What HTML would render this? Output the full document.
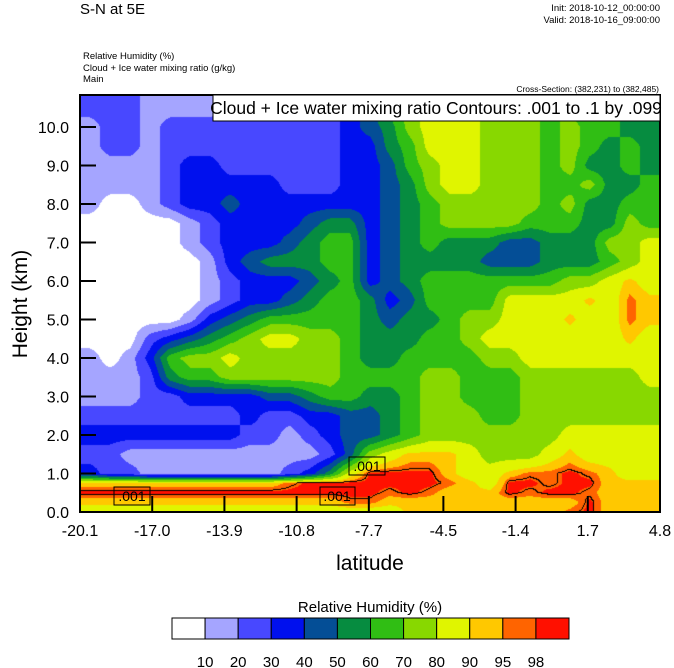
<!DOCTYPE html>
<html><head><meta charset="utf-8">
<style>
html,body{margin:0;padding:0;background:#fff;}
body{width:674px;height:668px;position:relative;overflow:hidden;font-family:"Liberation Sans",sans-serif;}
#field{position:absolute;left:80px;top:95px;}
#overlay{position:absolute;left:0;top:0;}
</style></head>
<body>
<canvas id="field" width="580" height="417"></canvas>
<svg id="overlay" width="674" height="668" xmlns="http://www.w3.org/2000/svg" font-family="Liberation Sans, sans-serif">
<text x="80" y="14" font-size="15">S-N at 5E</text>
<text x="660" y="11" font-size="9.5" text-anchor="end">Init: 2018-10-12_00:00:00</text>
<text x="660" y="23" font-size="9.5" text-anchor="end">Valid: 2018-10-16_09:00:00</text>
<text x="83" y="59" font-size="9.5">Relative Humidity   (%)</text>
<text x="83" y="71" font-size="9.5">Cloud + Ice water mixing ratio   (g/kg)</text>
<text x="83" y="82" font-size="9.5">Main</text>
<text x="659" y="92" font-size="8.5" text-anchor="end">Cross-Section: (382,231) to (382,485)</text>
<g id="axes"></g>
<rect x="213" y="95" width="447" height="26" fill="#fff" stroke="#000" stroke-width="1"/>
<text x="436" y="114" font-size="17.5" text-anchor="middle">Cloud + Ice water mixing ratio Contours: .001 to .1 by .099</text>
<g><rect x="114" y="487" width="36" height="18" fill="none" stroke="#000"/><text x="132" y="501" font-size="14" text-anchor="middle">.001</text></g>
<g><rect x="320" y="487" width="35" height="18" fill="none" stroke="#000"/><text x="337" y="501" font-size="14" text-anchor="middle">.001</text></g>
<g><rect x="349" y="457" width="36" height="18" fill="none" stroke="#000"/><text x="367" y="471" font-size="14" text-anchor="middle">.001</text></g>
<text x="370" y="570" font-size="21" text-anchor="middle">latitude</text>
<text transform="translate(27,304) rotate(-90)" font-size="21" text-anchor="middle">Height (km)</text>
<text x="370" y="612" font-size="15" text-anchor="middle">Relative Humidity  (%)</text>
<g id="colorbar"></g>
</svg>
<script>
// ---- data (rows bottom -> top, one code per latitude column; code = RH class index) ----
const heights = [0,0.25,0.5,0.75,1,1.5,2,2.5,3,3.5,4,4.5,5,5.5,6,6.5,7,7.5,8,8.5,9,9.5,10,10.5,11];
const latitudes = [-19.67,-18.81,-17.95,-17.09,-16.24,-15.38,-14.52,-13.66,-12.80,-11.94,-11.09,-10.23,-9.37,-8.51,-7.65,-6.79,-5.94,-5.08,-4.22,-3.36,-2.50,-1.65,-0.79,0.07,0.93,1.79,2.65,3.50,4.36];
const rhCodes = [
"8888888888888888"+"99999999"+"ab"+"999",
"9999999999999"+"aa"+"9999999999"+"b"+"999",
"bbbbbbbbbbbbbbb"+"aba"+"999"+"babba"+"999",
"9999999999"+"a"+"bbbbbbb"+"a98"+"bbabb"+"999",
"322"+"1111111"+"2358"+"bbbb"+"988"+"9aaba"+"988",
"22"+"1111111111"+"247"+"8999"+"8777"+"89"+"8888",
"33333333"+"22123"+"4456"+"7777777"+"88888",
"22222222"+"32233"+"4456"+"777"+"66"+"7777777",
"111"+"22"+"3333"+"445"+"66"+"55"+"6"+"77"+"666"+"7777777",
"111"+"2"+"566"+"777777"+"6666"+"77"+"666"+"777777"+"8",
"1013677"+"8"+"77777"+"6"+"55"+"6666"+"77"+"8888888",
"000234567"+"88"+"77"+"6"+"555"+"66"+"7"+"8888888"+"9"+"8",
"00000"+"1345"+"66666"+"5455"+"677"+"888"+"988"+"a9",
"000000"+"123345"+"66"+"534"+"6666"+"8888"+"98a9",
"000000"+"12333456"+"345"+"6666666"+"77898",
"000000"+"134555"+"66"+"345555"+"444"+"555"+"678",
"00000"+"12333456"+"6"+"3456"+"555"+"44"+"555"+"778",
"00000"+"123333"+"455"+"3456"+"7777"+"666"+"55"+"76",
"10012334"+"3333333"+"456"+"77777"+"67"+"5566",
"11112"+"33333"+"222"+"334"+"5788"+"777"+"667"+"556",
"11112"+"33"+"222222"+"334"+"6788"+"777"+"67"+"5565",
"1221"+"222222222"+"3356"+"888"+"777"+"67"+"6565",
"1221"+"222222222"+"3457"+"888"+"777"+"67"+"6655",
"2221111"+"222222"+"3467"+"888"+"77"+"67"+"666"+"55",
"2221111"+"222222"+"3467"+"888"+"77"+"67"+"666"+"55"];
const levels = [10,20,30,40,50,60,70,80,90,95,98];
const levelMid = [5,15,25,35,45,55,65,75,85,92,96.5,99];
const colors = ["#ffffff","#a5a5ff","#4848ff","#0010ee","#044e96","#068c40","#30be14","#88d800","#e0f500","#ffc800","#ff6400","#ff1000"];
const xTicks = [-20.1,-17.0,-13.9,-10.8,-7.7,-4.5,-1.4,1.7,4.8];
const yTicks = [0,1,2,3,4,5,6,7,8,9,10];
const cbLabels = ["10","20","30","40","50","60","70","80","90","95","98"];
</script>
<script>
const PX0=80,PX1=660,PY0=95,PY1=512,XMIN=-20.1,XMAX=4.8;
function xs(v){return PX0+(v-XMIN)/(XMAX-XMIN)*(PX1-PX0);}
function ys(h){return PY1-h*38.5;}
const rh = rhCodes.map(function(s){
  const row=[];
  for(let i=0;i<latitudes.length;i++){const c=s[i]||s[s.length-1];row.push(levelMid[parseInt(c,16)]);}
  return row;
});
const colX = latitudes.map(function(v){return xs(v);});
function sample(px,py){
  const h=(PY1-py)/38.5;
  let r=0; while(r<heights.length-2 && heights[r+1]<h) r++;
  let tr=(h-heights[r])/(heights[r+1]-heights[r]); tr=Math.max(0,Math.min(1,tr));
  let c=0; while(c<colX.length-2 && colX[c+1]<px) c++;
  let tc=(px-colX[c])/(colX[c+1]-colX[c]); tc=Math.max(0,Math.min(1,tc));
  const a=rh[r][c],b=rh[r][c+1],d=rh[r+1][c],e=rh[r+1][c+1];
  return (a*(1-tc)+b*tc)*(1-tr)+(d*(1-tc)+e*tc)*tr;
}
function lev(v){let k=0;while(k<levels.length&&v>=levels[k])k++;return k;}
const cv=document.getElementById('field');const ctx=cv.getContext('2d');
const W=580,H=417;const img=ctx.createImageData(W,H);
const rgb=colors.map(function(c){return [parseInt(c.substr(1,2),16),parseInt(c.substr(3,2),16),parseInt(c.substr(5,2),16)];});
const vals=new Float32Array(W*H);
for(let y=0;y<H;y++)for(let x=0;x<W;x++){vals[y*W+x]=sample(PX0+x+0.5,PY0+y+0.5);}
for(let y=0;y<H;y++)for(let x=0;x<W;x++){
  const v=vals[y*W+x];let col=rgb[lev(v)];
  if(y>H-110 && x+1<W && y+1<H){
    const t=97.5;const a=v>=t,b=vals[y*W+x+1]>=t,c=vals[(y+1)*W+x]>=t;
    if(a!==b||a!==c) col=[0,0,0];
  }
  const o=(y*W+x)*4;img.data[o]=col[0];img.data[o+1]=col[1];img.data[o+2]=col[2];img.data[o+3]=255;
}
ctx.putImageData(img,0,0);

const NS='http://www.w3.org/2000/svg';
function mk(tag,attrs,parent){const e=document.createElementNS(NS,tag);for(const k in attrs)e.setAttribute(k,attrs[k]);parent.appendChild(e);return e;}
const ax=document.getElementById('axes');
const frame=mk('rect',{x:PX0,y:PY0,width:PX1-PX0,height:PY1-PY0,fill:'none',stroke:'#000','stroke-width':2},ax);


yTicks.forEach(function(v){
  const y=ys(v);
  const t=mk('line',{x1:PX0,x2:PX0+16,y1:y,y2:y,stroke:'#000','stroke-width':2},ax);
  
  
  const l=mk('text',{x:PX0-11,y:y+6,'font-size':16,'text-anchor':'end'},ax);l.textContent=v.toFixed(1);
  
  
});
xTicks.forEach(function(v){
  const x=xs(v);
  const t=mk('line',{x1:x,x2:x,y1:PY1,y2:PY1-16,stroke:'#000','stroke-width':2},ax);
  
  
  const l=mk('text',{x:x,y:PY1+24,'font-size':16,'text-anchor':'middle'},ax);l.textContent=v.toFixed(1);
  
  
});
const cb=document.getElementById('colorbar');
const bw=(569-172)/colors.length;
colors.forEach(function(c,i){
  const r=mk('rect',{x:172+i*bw,y:618,width:bw,height:21,fill:c,stroke:'#000','stroke-width':1},cb);
  
  
});
cbLabels.forEach(function(s,i){
  const l=mk('text',{x:172+(i+1)*bw,y:667,'font-size':15,'text-anchor':'middle'},cb);l.textContent=s;
  
  
});
</script>
</body></html>
